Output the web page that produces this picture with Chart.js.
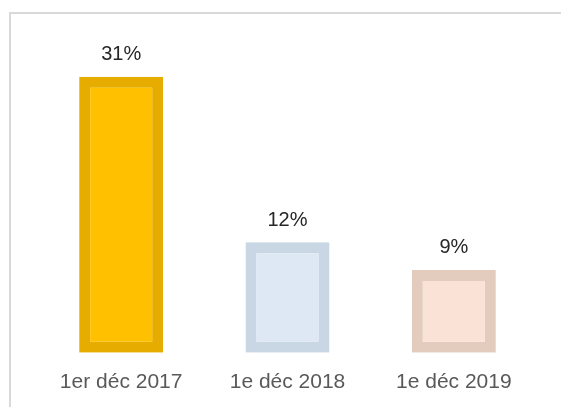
<!DOCTYPE html>
<html>
<head>
<meta charset="utf-8">
<script src="https://cdn.jsdelivr.net/npm/chart.js@4/dist/chart.umd.min.js"></script>
<style>
  html, body { margin: 0; padding: 0; background: #ffffff; }
  #wrap { position: relative; width: 561px; height: 407px; }
</style>
</head>
<body>
<div id="wrap"><canvas id="c" width="561" height="407"></canvas></div>
<script>
// Data (percent)
const categories = ['1er déc 2017', '1e déc 2018', '1e déc 2019'];
const values = [31, 12.4, 9.3];
const fillColors = ['#FFC000', '#DEE8F4', '#FAE3D6'];
const borderColors = ['#E6AD00', '#C9D6E3', '#E3CCBE'];

const frameBorder = {
  id: 'frameBorder',
  beforeDraw(chart) {
    const ctx = chart.ctx;
    ctx.save();
    ctx.strokeStyle = '#D9D9D9';
    ctx.lineWidth = 2;
    ctx.strokeRect(10, 13, 700, 700);
    ctx.restore();
  }
};

const valueLabels = {
  id: 'valueLabels',
  afterDatasetsDraw(chart) {
    const ctx = chart.ctx;
    const meta = chart.getDatasetMeta(0);
    ctx.save();
    ctx.font = '20px "Liberation Sans", Arial, sans-serif';
    ctx.fillStyle = '#262626';
    ctx.textAlign = 'center';
    ctx.textBaseline = 'middle';
    meta.data.forEach((bar, i) => {
      ctx.fillText(Math.round(values[i]) + '%', bar.x, bar.y - 22);
    });
    ctx.restore();
  }
};

new Chart(document.getElementById('c'), {
  type: 'bar',
  data: {
    labels: categories,
    datasets: [{
      data: values,
      backgroundColor: fillColors,
      borderColor: borderColors,
      borderWidth: 11,
      borderSkipped: false,
      inflateAmount: 0,
      categoryPercentage: 1,
      barPercentage: 0.505
    }]
  },
  options: {
    responsive: false,
    animation: false,
    devicePixelRatio: 1,
    layout: { padding: { left: 38, right: 24, top: 41, bottom: -5 } },
    plugins: { legend: { display: false }, tooltip: { enabled: false } },
    scales: {
      x: {
        grid: { display: false, drawTicks: false },
        border: { display: false },
        ticks: {
          padding: 17,
          color: '#595959',
          font: { family: '"Liberation Sans", Arial, sans-serif', size: 21 }
        }
      },
      y: {
        display: false,
        min: 0,
        max: 35
      }
    }
  },
  plugins: [frameBorder, valueLabels]
});
</script>
</body>
</html>
